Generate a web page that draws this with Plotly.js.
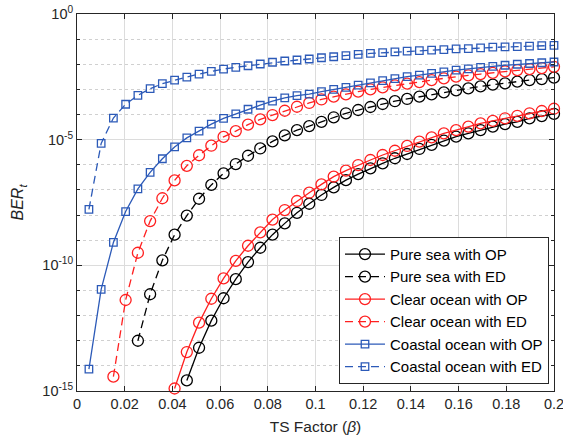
<!DOCTYPE html>
<html>
<head>
<meta charset="utf-8">
<script src="https://cdn.plot.ly/plotly-3.0.1.min.js"></script>
<style>html,body{margin:0;padding:0;background:#fff;}#chart{width:563px;height:443px;}</style>
</head>
<body>
<div id="chart"></div>
<script>
// TS factor (beta) sample points
const tsFactor = [0.005, 0.01013, 0.01526, 0.02039, 0.02553, 0.03066, 0.03579, 0.04092, 0.04605, 0.05118,
  0.05632, 0.06145, 0.06658, 0.07171, 0.07684, 0.08197, 0.08711, 0.09224, 0.09737, 0.1025,
  0.10763, 0.11276, 0.11789, 0.12303, 0.12816, 0.13329, 0.13842, 0.14355, 0.14868, 0.15382,
  0.15895, 0.16408, 0.16921, 0.17434, 0.17947, 0.18461, 0.18974, 0.19487, 0.2];

// log10(BER_t)
const pureOP_log = [null, null, null, null, null, null, null, null,
  -14.58, -13.28, -12.20, -11.31, -10.55, -9.87, -9.30, -8.78, -8.33, -7.91, -7.55, -7.20,
  -6.90, -6.61, -6.37, -6.14, -5.94, -5.74, -5.57, -5.37, -5.21, -5.04,
  -4.88, -4.75, -4.62, -4.48, -4.38, -4.29, -4.15, -4.06, -3.97];
const pureED_log = [null, null, null, null,
  -13.00, -11.15, -9.80, -8.78, -8.02, -7.35, -6.80, -6.34, -5.97, -5.64, -5.35, -5.07,
  -4.83, -4.62, -4.46, -4.29, -4.11, -3.95, -3.82, -3.70, -3.58, -3.47, -3.38, -3.29,
  -3.20, -3.12, -3.04, -2.96, -2.88, -2.81, -2.76, -2.69, -2.63, -2.59, -2.53];
const clearOP_log = [null, null, null, null, null, null, null,
  -14.90, -13.45, -12.28, -11.33, -10.52, -9.82, -9.22, -8.69, -8.18, -7.80, -7.44, -7.11,
  -6.78, -6.47, -6.23, -6.01, -5.81, -5.61, -5.44, -5.25, -5.08, -4.91, -4.75, -4.62,
  -4.48, -4.35, -4.25, -4.15, -4.05, -3.95, -3.86, -3.77];
const clearED_log = [null, null,
  -14.43, -11.38, -9.50, -8.24, -7.33, -6.62, -6.04, -5.62, -5.24, -4.89, -4.66, -4.40,
  -4.19, -4.02, -3.85, -3.69, -3.54, -3.40, -3.29, -3.20, -3.09, -3.00, -2.92, -2.84,
  -2.77, -2.71, -2.63, -2.56, -2.49, -2.44, -2.39, -2.34, -2.28, -2.23, -2.19, -2.15, -2.10];
const coastalOP_log = [-14.13, -10.96, -9.09, -7.86, -6.96, -6.30, -5.76, -5.29, -4.93, -4.66,
  -4.38, -4.15, -3.97, -3.79, -3.63, -3.47, -3.34, -3.25, -3.19, -3.09, -3.00, -2.92,
  -2.83, -2.74, -2.65, -2.57, -2.49, -2.43, -2.36, -2.30, -2.23, -2.18, -2.12, -2.08,
  -2.04, -2.00, -1.97, -1.94, -1.91];
const coastalED_log = [-7.77, -5.15, -4.14, -3.59, -3.24, -2.97, -2.77, -2.63, -2.51, -2.39,
  -2.28, -2.19, -2.12, -2.06, -1.99, -1.92, -1.87, -1.83, -1.79, -1.74, -1.70, -1.66,
  -1.61, -1.57, -1.54, -1.51, -1.48, -1.46, -1.44, -1.42, -1.39, -1.38, -1.35, -1.32,
  -1.31, -1.30, -1.28, -1.26, -1.25];

const seriesNames = ['Pure sea with OP', 'Pure sea with ED', 'Clear ocean with OP',
  'Clear ocean with ED', 'Coastal ocean with OP', 'Coastal ocean with ED'];

const xTickVals = [0, 0.02, 0.04, 0.06, 0.08, 0.1, 0.12, 0.14, 0.16, 0.18, 0.2];
const xTickText = ['0', '0.02', '0.04', '0.06', '0.08', '0.1', '0.12', '0.14', '0.16', '0.18', '0.2'];
const yTickVals = [1, 1e-5, 1e-10, 1e-15];
const yTickText = ['10<sup>0</sup>', '10<sup>-5</sup>', '10<sup>-10</sup>', '10<sup>-15</sup>'];
const yMinorVals = [1e-1,1e-2,1e-3,1e-4,1e-6,1e-7,1e-8,1e-9,1e-11,1e-12,1e-13,1e-14];

const toBER = arr => arr.map(v => v === null ? null : Math.pow(10, v));

const BLACK = '#000000', RED = '#FF2020', BLUE = '#2C5AB8';
const DASH = '8px,5px';
const styles = [
  {c: BLACK, dash: 'solid', sym: 'circle-open', size: 11},
  {c: BLACK, dash: DASH, sym: 'circle-open', size: 11},
  {c: RED, dash: 'solid', sym: 'circle-open', size: 11},
  {c: RED, dash: DASH, sym: 'circle-open', size: 11},
  {c: BLUE, dash: 'solid', sym: 'square-open', size: 7.5},
  {c: BLUE, dash: DASH, sym: 'square-open', size: 7.5}
];
const data = [pureOP_log, pureED_log, clearOP_log, clearED_log, coastalOP_log, coastalED_log];

const traces = data.map((d, i) => ({
  x: tsFactor, y: toBER(d), name: seriesNames[i], type: 'scatter', mode: 'lines+markers',
  connectgaps: false, cliponaxis: false,
  line: {color: styles[i].c, width: 1.3, dash: styles[i].dash},
  marker: {symbol: styles[i].sym, size: styles[i].size, color: styles[i].c, line: {width: 1.3, color: styles[i].c}}
}));

const FONT = 'Liberation Sans, Arial, sans-serif';
const axisCommon = {
  showline: true, linecolor: '#262626', linewidth: 1, mirror: 'allticks',
  ticks: 'inside', ticklen: 5, tickcolor: '#262626',
  tickfont: {family: FONT, size: 14.5, color: '#262626'},
  ticklabeloverflow: 'allow',
  zeroline: false, gridcolor: '#DCDCDC', gridwidth: 1
};

const layout = {
  width: 563, height: 443,
  margin: {l: 77, r: 9, t: 14, b: 52},
  paper_bgcolor: '#ffffff', plot_bgcolor: '#ffffff',
  font: {family: FONT, color: '#262626'},
  showlegend: true,
  xaxis: Object.assign({}, axisCommon, {
    range: [0, 0.2], tickmode: 'array', tickvals: xTickVals, ticktext: xTickText,
    title: {text: 'TS Factor (<i>β</i>)', font: {size: 15.5, color: '#262626'}, standoff: 9}
  }),
  yaxis: Object.assign({}, axisCommon, {
    type: 'log', range: [-15, 0], tickmode: 'array', tickvals: yTickVals, ticktext: yTickText,
    minor: {tickmode: 'array', tickvals: yMinorVals, ticks: 'inside', ticklen: 3, tickcolor: '#262626',
      showgrid: true, gridcolor: '#D0D0D0', griddash: 'dot', gridwidth: 1},
    title: {text: '<i>BER</i><sub><i>t</i></sub>', font: {size: 16, color: '#262626'}, standoff: 14}
  }),
  legend: {
    x: 0.9895, xanchor: 'right', y: 0.019, yanchor: 'bottom',
    bgcolor: '#ffffff', bordercolor: '#262626', borderwidth: 1,
    font: {family: FONT, size: 15, color: '#000000'},
    tracegroupgap: 0, itemwidth: 40
  }
};

Plotly.newPlot('chart', traces, layout, {staticPlot: true, displayModeBar: false});
</script>
</body>
</html>
